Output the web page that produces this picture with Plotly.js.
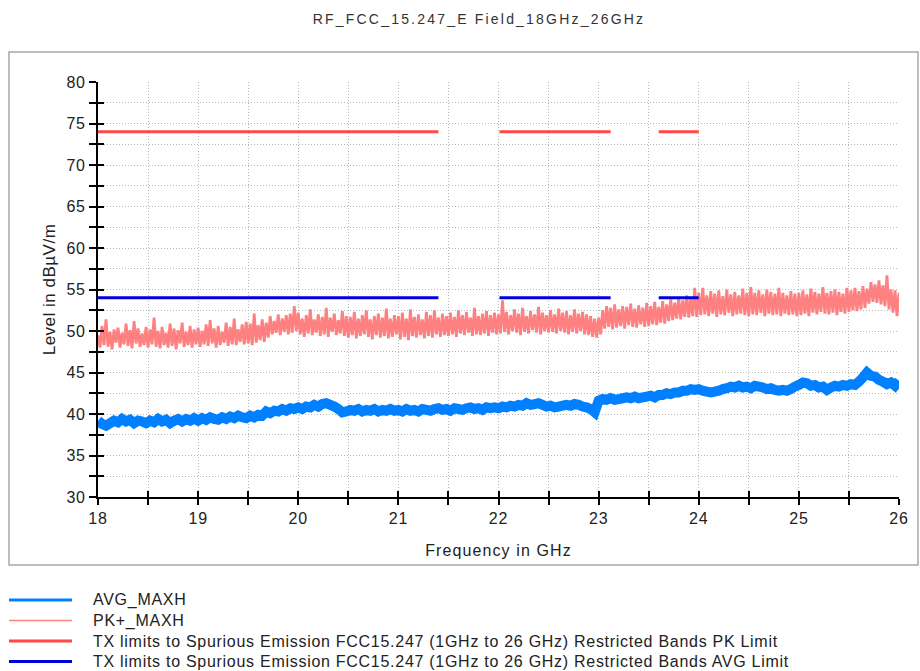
<!DOCTYPE html>
<html>
<head>
<meta charset="utf-8">
<script src="https://cdn.plot.ly/plotly-3.0.1.min.js"></script>
<style>
  html, body { margin: 0; padding: 0; background: #ffffff; }
  #chart { width: 920px; height: 671px; }
  #chart .gtitle { letter-spacing: 2.2px; }
  #chart .xtitle { letter-spacing: 1.1px; }
  #chart .ytitle { letter-spacing: 0.5px; }
  #chart .xtick text, #chart .ytick text { letter-spacing: 0.8px; }
  #chart .annotation-text { letter-spacing: 0.72px; }
</style>
</head>
<body>
<div id="chart"></div>
<script>
// ---------------- DATA ----------------
const CHART_TITLE = "RF_FCC_15.247_E Field_18GHz_26GHz";
const X_TITLE = "Frequency in GHz";
const Y_TITLE = "Level in dBµV/m";

const SERIES_NAMES = [
  "AVG_MAXH",
  "PK+_MAXH",
  "TX limits to Spurious Emission FCC15.247 (1GHz to 26 GHz) Restricted Bands PK Limit",
  "TX limits to Spurious Emission FCC15.247 (1GHz to 26 GHz) Restricted Bands AVG Limit"
];

// sweep: PK+ trace sampled every 0.02 GHz, AVG trace every 0.04 GHz, 18 → 26 GHz
const SWEEP_START = 18;
const PK_STEP = 0.02;
const AVG_STEP = 0.04;

const PK_MAXH = [
  49.5,48.0,50.6,48.3,51.4,48.1,49.9,47.8,50.2,48.6,50.4,48.0,49.8,48.4,50.9,48.2,50.1,47.9,51.2,48.5,50.3,48.1,49.7,48.3,50.5,
  48.0,50.2,48.4,51.6,48.1,50.0,47.9,50.5,48.3,49.8,48.0,50.9,48.2,50.3,47.8,50.1,48.5,51.0,48.1,49.9,48.3,50.6,48.0,50.2,48.4,
  50.4,48.1,50.0,48.4,50.8,48.2,51.3,48.5,50.3,48.0,50.6,48.3,49.9,48.6,51.0,48.2,50.5,48.4,51.5,48.3,50.2,48.7,50.8,48.4,51.1,
  48.5,50.9,48.3,52.1,48.6,50.7,48.9,51.4,48.7,51.0,49.2,51.8,49.6,51.2,49.8,52.0,49.5,51.5,49.9,51.9,49.6,52.1,49.8,53.0,50.0,
  52.2,49.6,51.5,49.3,51.9,49.7,52.6,49.5,51.4,49.8,52.0,49.4,51.7,49.6,52.8,49.3,51.6,49.9,52.1,49.5,51.3,49.7,52.4,49.4,51.8,
  49.2,51.7,49.5,52.3,49.1,51.5,49.4,51.9,49.6,52.5,49.3,51.4,49.0,51.8,49.5,52.1,49.2,51.6,49.4,52.7,49.1,51.5,49.3,51.9,49.6,
  51.8,49.0,52.2,49.3,51.5,48.9,52.6,49.4,51.7,49.2,52.0,49.5,51.4,49.1,52.3,49.4,51.9,49.2,52.5,49.6,51.6,49.3,52.1,49.5,51.8,
  49.4,52.2,49.6,51.7,49.3,52.5,49.7,51.9,49.5,52.3,49.8,51.6,49.4,52.8,49.6,51.8,49.5,52.1,49.7,52.4,49.4,51.9,49.8,52.2,49.6,
  52.0,49.7,53.7,49.9,52.3,49.6,51.9,50.0,52.6,49.8,52.1,49.5,52.8,49.9,51.8,49.7,52.4,50.1,52.0,49.8,52.9,49.6,52.2,50.0,51.9,
  49.8,52.5,49.9,52.0,49.7,52.7,50.0,52.2,49.8,52.4,49.6,51.9,49.9,52.6,49.7,52.1,50.0,52.3,49.6,52.0,49.5,51.8,49.3,51.5,49.2,
  51.6,49.6,52.5,50.3,53.0,50.5,52.8,50.2,53.2,50.4,52.6,50.6,53.0,50.3,52.9,50.7,53.3,50.5,52.7,50.4,53.1,50.8,52.8,50.5,53.4,
  50.6,53.0,50.8,53.5,50.7,52.9,51.0,53.6,50.9,53.2,51.2,53.8,51.3,53.4,51.5,54.0,51.4,53.7,51.7,54.3,51.6,53.9,51.8,55.2,51.7,
  54.6,51.9,55.2,52.0,54.3,51.8,54.8,52.1,54.5,51.7,54.9,52.0,54.2,51.9,55.0,52.2,54.4,51.8,54.7,52.0,54.3,52.1,55.1,51.9,54.6,
  51.8,55.3,52.0,54.6,51.9,54.9,52.2,54.4,51.8,55.0,52.1,54.7,51.9,54.5,52.0,55.2,51.8,54.6,52.1,54.3,51.9,54.8,52.0,54.5,51.8,
  54.6,51.9,54.9,52.1,54.4,51.8,55.1,52.2,54.7,52.0,54.5,52.3,55.3,52.1,54.6,52.0,54.8,52.2,55.0,51.9,54.7,52.3,54.5,52.1,55.2,
  52.3,54.9,52.5,55.2,52.4,54.8,52.6,55.4,52.8,55.1,53.3,55.9,53.5,55.6,53.4,56.1,53.2,55.5,53.0,56.7,52.6,55.0,52.2,54.9,51.8,
  54.6
];

const AVG_MAXH = [
  39.2,38.8,38.6,38.9,39.2,39.0,39.4,39.1,39.3,38.9,39.2,39.1,38.9,39.2,39.0,39.4,39.1,39.3,38.9,39.2,39.4,39.1,39.4,39.2,39.5,
  39.2,39.5,39.3,39.6,39.4,39.3,39.6,39.4,39.7,39.5,39.8,39.6,39.5,39.8,39.6,39.9,39.8,40.3,40.1,40.4,40.3,40.6,40.4,40.7,40.6,
  40.8,40.6,40.9,40.8,41.1,40.9,41.2,41.3,41.1,40.9,40.6,40.2,40.3,40.5,40.4,40.6,40.3,40.5,40.4,40.6,40.3,40.5,40.4,40.6,40.4,
  40.5,40.3,40.6,40.4,40.5,40.3,40.6,40.5,40.4,40.6,40.7,40.5,40.6,40.4,40.7,40.6,40.5,40.7,40.8,40.6,40.7,40.5,40.8,40.7,40.8,
  40.7,40.9,40.8,41.0,40.9,41.1,41.0,41.3,41.1,41.2,41.3,41.1,40.9,41.0,40.8,40.9,41.0,41.1,41.0,41.2,41.1,40.9,40.8,40.6,40.2,
  41.6,41.8,41.7,41.9,41.7,41.8,41.9,42.0,41.9,42.1,41.9,42.0,42.1,42.2,42.0,42.3,42.3,42.5,42.4,42.6,42.6,42.8,42.8,43.0,42.9,
  43.0,42.8,42.7,42.6,42.7,42.8,43.0,43.1,43.3,43.2,43.4,43.2,43.3,43.1,43.4,43.3,43.2,43.0,43.1,42.9,42.8,42.9,42.8,43.0,43.3,
  43.5,43.8,43.7,43.4,43.5,43.2,43.3,42.9,43.2,43.4,43.3,43.5,43.4,43.6,43.5,43.9,44.4,45.0,44.6,44.5,44.1,43.9,43.6,43.8,43.4,
  44.0
];

// restricted bands (GHz) and limits (dBµV/m)
const BAND_START = [18.0, 22.01, 23.6];
const BAND_STOP  = [21.4, 23.12, 24.0];
const PK_LIMIT = 74;
const AVG_LIMIT = 54;

// axes
const X_RANGE = [18, 26];
const Y_RANGE = [30, 80];
const X_TICKS = [18,18.5,19,19.5,20,20.5,21,21.5,22,22.5,23,23.5,24,24.5,25,25.5,26];
const X_TICK_TEXT = ["18","","19","","20","","21","","22","","23","","24","","25","","26"];
const Y_TICKS = [30,32.5,35,37.5,40,42.5,45,47.5,50,52.5,55,57.5,60,62.5,65,67.5,70,72.5,75,77.5,80];
const Y_TICK_TEXT = ["30","","35","","40","","45","","50","","55","","60","","65","","70","","75","","80"];

// ---------------- BUILD ----------------
const COLORS = ["#0080ff", "#ff8080", "#ff4848", "#0000dd"];
const WIDTHS = [10, 2.8, 3, 3];
const LEGEND_WIDTHS = [3, 1.5, 3, 3];

const pkX = PK_MAXH.map((_, i) => +(SWEEP_START + i * PK_STEP).toFixed(3));
const avgX = AVG_MAXH.map((_, i) => +(SWEEP_START + i * AVG_STEP).toFixed(3));

function limitTrace(level, name, color, width) {
  const xs = [], ys = [];
  BAND_START.forEach((s, i) => {
    xs.push(s, BAND_STOP[i], null);
    ys.push(level, level, null);
  });
  return { x: xs, y: ys, type: "scatter", mode: "lines", name: name,
           line: { color: color, width: width }, showlegend: false, hoverinfo: "skip" };
}

const traces = [
  { x: pkX, y: PK_MAXH, type: "scatter", mode: "lines", name: SERIES_NAMES[1],
    line: { color: COLORS[1], width: WIDTHS[1], simplify: false }, showlegend: false },
  { x: avgX, y: AVG_MAXH, type: "scatter", mode: "lines", name: SERIES_NAMES[0],
    line: { color: COLORS[0], width: WIDTHS[0], simplify: false }, showlegend: false },
  limitTrace(PK_LIMIT, SERIES_NAMES[2], COLORS[2], WIDTHS[2]),
  limitTrace(AVG_LIMIT, SERIES_NAMES[3], COLORS[3], WIDTHS[3])
];

// plot-area geometry (pixels) and helpers to place decorations in paper coords
const L = 98, R = 899, T = 82, B = 497, W = 920, H = 671;
const px = x => (x - L) / (R - L);
const py = y => (B - y) / (B - T);

const FONT = "Liberation Sans, Arial, sans-serif";

const shapes = [
  { type: "rect", xref: "paper", yref: "paper", x0: px(9), x1: px(918), y0: py(565), y1: py(52),
    line: { color: "#a8a8a8", width: 1.5 }, fillcolor: "rgba(0,0,0,0)", layer: "below" }
];
const annotations = [];
const LEG_ROWS = [600, 620.5, 641, 661.5];
SERIES_NAMES.forEach((n, i) => {
  shapes.push({ type: "line", xref: "paper", yref: "paper", x0: px(9), x1: px(72),
                y0: py(LEG_ROWS[i]), y1: py(LEG_ROWS[i]),
                line: { color: COLORS[i], width: LEGEND_WIDTHS[i] } });
  annotations.push({ xref: "paper", yref: "paper", x: px(91), y: py(LEG_ROWS[i]),
                     xanchor: "left", yanchor: "middle", align: "left", showarrow: false, text: n,
                     font: { family: FONT, size: 16, color: "#222" } });
});

const GRID_DASH = "1px,2px";

const layout = {
  width: W, height: H,
  margin: { l: L, r: W - R, t: T, b: H - B, pad: 0 },
  paper_bgcolor: "#ffffff", plot_bgcolor: "#ffffff",
  showlegend: false,
  font: { family: FONT, size: 16, color: "#222" },
  title: { text: CHART_TITLE, x: 479 / W, xanchor: "center", y: 1 - 19 / H, yanchor: "middle",
           font: { family: FONT, size: 14, color: "#333" } },
  xaxis: {
    range: X_RANGE, tickmode: "array", tickvals: X_TICKS, ticktext: X_TICK_TEXT,
    showgrid: true, gridcolor: "#b8b8b8", griddash: GRID_DASH, gridwidth: 1,
    showline: true, linecolor: "#000", linewidth: 2, zeroline: false,
    ticks: "outside", ticklen: 6, tickwidth: 2, tickcolor: "#000",
    tickfont: { family: FONT, size: 16, color: "#222" },
    title: { text: X_TITLE, standoff: 19, font: { family: FONT, size: 16, color: "#222" } },
    automargin: false, fixedrange: true
  },
  xaxis2: {
    overlaying: "x", anchor: "y", side: "bottom", matches: "x", range: X_RANGE,
    tickmode: "array", tickvals: X_TICKS, showticklabels: false, showgrid: false,
    zeroline: false, showline: false, ticks: "inside", ticklen: 6, tickwidth: 2, tickcolor: "#000"
  },
  yaxis: {
    range: Y_RANGE, tickmode: "array", tickvals: Y_TICKS, ticktext: Y_TICK_TEXT,
    showgrid: true, gridcolor: "#b8b8b8", griddash: GRID_DASH, gridwidth: 1,
    showline: true, linecolor: "#000", linewidth: 2, zeroline: false,
    ticks: "outside", ticklen: 7, tickwidth: 2, tickcolor: "#000",
    tickfont: { family: FONT, size: 16, color: "#222" },
    title: { text: Y_TITLE, standoff: 8, font: { family: FONT, size: 17, color: "#222" } },
    automargin: false, fixedrange: true
  },
  yaxis2: {
    overlaying: "y", anchor: "x", side: "left", matches: "y", range: Y_RANGE,
    tickmode: "array", tickvals: Y_TICKS, showticklabels: false, showgrid: false,
    zeroline: false, showline: false, ticks: "inside", ticklen: 6, tickwidth: 2, tickcolor: "#000"
  },
  shapes: shapes,
  annotations: annotations
};

// invisible trace to activate the overlay axes that give the crossing ticks
traces.push({ x: [X_RANGE[0]], y: [Y_RANGE[0]], xaxis: "x2", yaxis: "y2", type: "scatter",
              mode: "markers", marker: { opacity: 0 }, showlegend: false, hoverinfo: "skip" });

Plotly.newPlot("chart", traces, layout, { displayModeBar: false, staticPlot: true });
</script>
</body>
</html>
